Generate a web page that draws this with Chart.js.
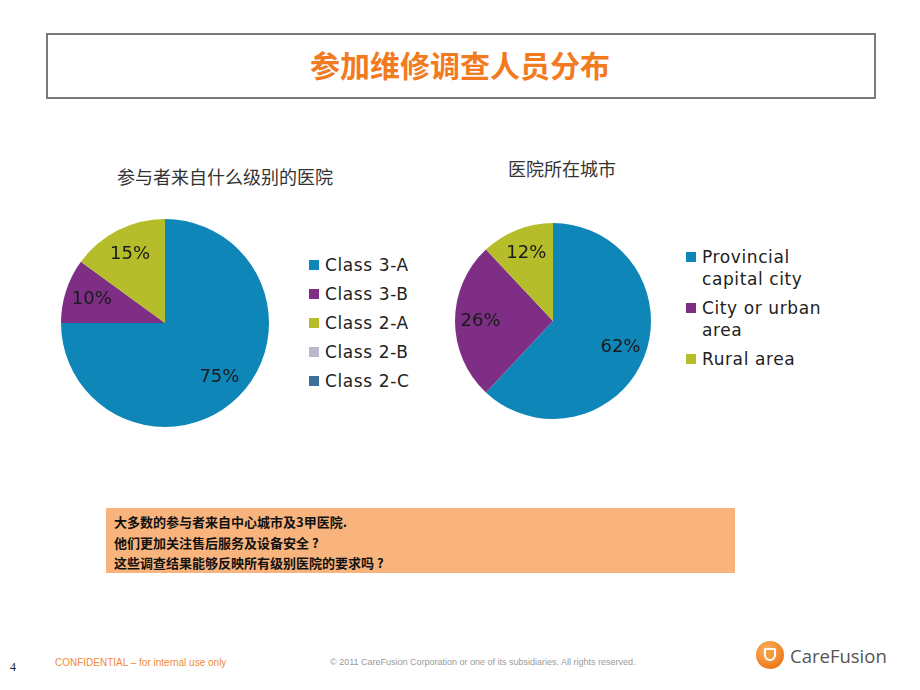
<!DOCTYPE html>
<html>
<head>
<meta charset="utf-8">
<script src="https://cdn.jsdelivr.net/npm/chart.js@4/dist/chart.umd.min.js"></script>
<style>
  body { margin: 0; width: 920px; height: 690px; background: #fff; position: relative; overflow: hidden;
         font-family: "DejaVu Sans", Verdana, sans-serif; }
  .abs { position: absolute; }
  #titleBox { left: 46px; top: 33px; width: 826px; height: 62px; border: 2px solid #7a7a7a; }
  #title { left: 0; right: 0; top: 42px; text-align: center; font: bold 30px "Noto Sans CJK SC", sans-serif; color: #f27b1f; }
  .sub { font: 18px "Noto Sans CJK SC", sans-serif; color: #333; }
  .legend { font-size: 17px; letter-spacing: 0.6px; color: #222; }
  .legend .item { position: relative; padding-left: 16px; line-height: 22px; margin-bottom: 7px; white-space: nowrap; }
  .legend .box { position: absolute; left: 0; top: 6px; width: 10px; height: 10px; }
  #note { left: 106px; top: 508px; width: 629px; height: 65px; background: #f9b47e; }
  #noteText { left: 114px; top: 512px; font: bold 13px/20.5px "Noto Sans CJK SC", sans-serif; color: #111; }
</style>
</head>
<body>
<div id="titleBox" class="abs"></div>
<div id="title" class="abs">参加维修调查人员分布</div>

<div class="abs sub" style="left:117px; top:163px;">参与者来自什么级别的医院</div>
<div class="abs sub" style="left:508px; top:155px;">医院所在城市</div>

<canvas id="levelChart" class="abs" width="208" height="208" style="left:61px; top:219px;"></canvas>
<canvas id="cityChart" class="abs" width="196" height="196" style="left:455px; top:223px;"></canvas>

<div id="levelLegend" class="abs legend" style="left:309px; top:254px;"></div>
<div id="cityLegend" class="abs legend" style="left:686px; top:246px;"></div>

<div id="note" class="abs"></div>
<div id="noteText" class="abs">大多数的参与者来自中心城市及3甲医院.<br>他们更加关注售后服务及设备安全 ?<br>这些调查结果能够反映所有级别医院的要求吗 ?</div>

<div class="abs" style="left:10px; top:660px; font:12px 'Liberation Serif', serif; color:#222;">4</div>
<div class="abs" style="left:55px; top:657px; font:10px 'Liberation Sans', sans-serif; color:#f08a3c;">CONFIDENTIAL – for internal use only</div>
<div class="abs" style="left:330px; top:657px; font:9px 'Liberation Sans', sans-serif; color:#9a9a9a;">© 2011 CareFusion Corporation or one of its subsidiaries. All rights reserved.</div>
<div class="abs" style="left:756px; top:641px; width:28px; height:28px; border-radius:50%; background:radial-gradient(circle at 40% 35%, #fbb86a, #ee7a1a 70%, #d8600c);"></div>
<div class="abs" style="left:764px; top:648px; width:12px; height:13px; border:2px solid #fff; border-radius:2px 2px 8px 8px; box-sizing:border-box; background:#f39a3a;"></div>
<div class="abs" style="left:790px; top:643px; font:18.5px 'Open Sans', sans-serif; color:#555;">CareFusion</div>

<script>
// 医院级别
var levelLabels = ['Class 3-A', 'Class 3-B', 'Class 2-A', 'Class 2-B', 'Class 2-C'];
var levelValues = [75, 10, 15, 0, 0];
var levelColors = ['#0e86b8', '#7e2f85', '#b5be2a', '#b8b8c8', '#3e6e9a'];

// 医院所在城市
var cityLabels = [['Provincial', 'capital city'], ['City or urban', 'area'], ['Rural area']];
var cityValues = [62, 26, 12];
var cityColors = ['#0e86b8', '#7e2f85', '#b5be2a'];

// percentage labels inside slices
var pctLabels = {
    id: 'pctLabels',
    afterDatasetsDraw: function(chart) {
        var ctx = chart.ctx;
        var data = chart.data.datasets[0].data;
        ctx.save();
        ctx.font = '18px "DejaVu Sans", Verdana, sans-serif';
        ctx.fillStyle = '#1a1a1a';
        ctx.textAlign = 'center';
        ctx.textBaseline = 'middle';
        chart.getDatasetMeta(0).data.forEach(function(arc, i) {
            if (!data[i]) return;
            var p = arc.getProps(['x', 'y', 'startAngle', 'endAngle', 'outerRadius'], true);
            var mid = (p.startAngle + p.endAngle) / 2;
            var r = p.outerRadius * 0.74;
            ctx.fillText(data[i] + '%', p.x + Math.cos(mid) * r, p.y + Math.sin(mid) * r);
        });
        ctx.restore();
    }
};

function makePie(id, labels, values, colors) {
    return new Chart(document.getElementById(id).getContext('2d'), {
        type: 'pie',
        data: {
            labels: labels,
            datasets: [{ data: values, backgroundColor: colors, borderWidth: 0 }]
        },
        options: {
            responsive: false,
            animation: false,
            plugins: { legend: { display: false }, tooltip: { enabled: false } }
        },
        plugins: [pctLabels]
    });
}

function makeLegend(id, labels, colors) {
    var el = document.getElementById(id);
    labels.forEach(function(lab, i) {
        var lines = Array.isArray(lab) ? lab : [lab];
        var item = document.createElement('div');
        item.className = 'item';
        item.innerHTML = '<span class="box" style="background:' + colors[i] + '"></span>' + lines.join('<br>');
        el.appendChild(item);
    });
}

makePie('levelChart', levelLabels, levelValues, levelColors);
makePie('cityChart', cityLabels, cityValues, cityColors);
makeLegend('levelLegend', levelLabels, levelColors);
makeLegend('cityLegend', cityLabels, cityColors);
</script>
</body>
</html>
